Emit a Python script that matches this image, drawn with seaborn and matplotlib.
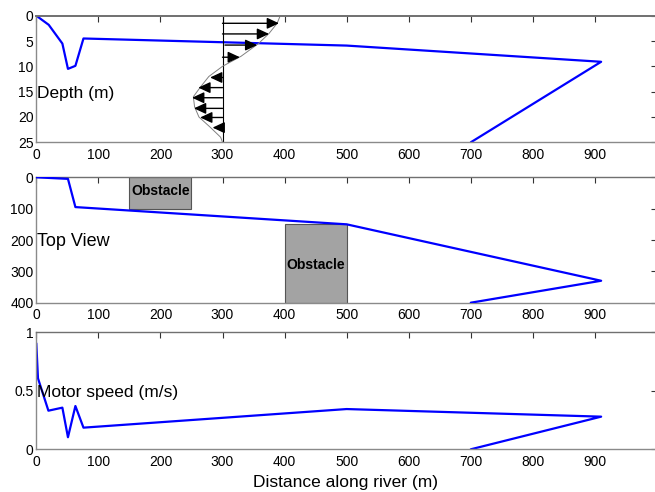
import matplotlib
matplotlib.use("Agg")
import matplotlib.pyplot as plt
import matplotlib.patches as patches
import seaborn as sns

# Depth profile of the path (distance along river, depth in m)
depthDist = [0, 20, 42, 51, 63, 76, 500, 910, 700]
depthVal = [0, 1.8, 5.5, 10.5, 9.9, 4.5, 5.9, 9.1, 25]

# Current velocity profile drawn at x = 300
profileX = [393, 388, 375, 358, 330, 300, 278, 265, 253, 255, 262, 280, 297, 300]
profileDepth = [0, 1.5, 3.5, 5.5, 8, 10, 12, 14, 16, 18, 20, 22, 24, 25]
arrowDepth = [1.5, 3.6, 5.8, 8.2, 12.2, 14.2, 16.2, 18.3, 20.1, 22.1]
arrowTip = [391, 375, 356, 328, 280, 261, 251, 254, 264, 284]
arrowStart = [300, 300, 304, 300, 300, 300, 300, 300, 300, 300]

# Top view of the path
topDist = [0, 51, 63, 500, 910, 700]
topVal = [0, 5, 95, 150, 330, 400]
obstacleX = [150, 400]
obstacleY = [0, 150]
obstacleW = [100, 100]
obstacleH = [100, 250]

# Motor speed along the path
speedDist = [0, 2.7, 19.5, 42, 51, 63, 76, 500, 910, 700]
speedVal = [0.906, 0.607, 0.33, 0.356, 0.103, 0.37, 0.185, 0.344, 0.279, 0]

xTicks = list(range(0, 1000, 100))

sns.set_theme(style="white")
plt.rcParams['font.family'] = ['Liberation Sans', 'DejaVu Sans']
plt.rcParams['text.color'] = 'black'

fig = plt.figure(figsize=(6.55, 4.92), dpi=100)
H = 492.0
W = 655.0
left = 36.3 / W
width = 620.7 / W

def makeAxes(top, bottom):
    return fig.add_axes([left, 1 - bottom / H, width, (bottom - top) / H])

def styleAxes(ax, yticks, ylabels):
    ax.set_xlim(0, 1000)
    ax.set_xticks(xTicks)
    ax.set_xticklabels([str(t) for t in xTicks])
    ax.set_yticks(yticks)
    ax.set_yticklabels(ylabels)
    ax.tick_params(direction='in', length=4, width=0.8, colors='#333333',
                   labelcolor='black', labelsize=10, top=True, right=True)
    ax.tick_params(axis='x', pad=4)
    ax.tick_params(axis='y', pad=2)
    for s in ax.spines.values():
        s.set_color('#8a8a8a')
        s.set_linewidth(1.0)
    ax.spines['top'].set_color('#707070')
    ax.set_xlabel("")
    ax.set_ylabel("")

# top panel: depth
ax1 = makeAxes(15.7, 142.3)
sns.lineplot(x=depthDist, y=depthVal, sort=False, estimator=None,
             color='#0000ff', linewidth=1.6, ax=ax1)
ax1.plot([300, 300], [0, 25], color='black', linewidth=0.8)
ax1.plot(profileX, profileDepth, color='#808080', linewidth=0.7)
for d, x0, x1 in zip(arrowDepth, arrowStart, arrowTip):
    ax1.annotate("", xy=(x1, d), xytext=(x0, d),
                 arrowprops=dict(arrowstyle='-|>,head_length=0.6,head_width=0.28',
                                 color='black', lw=1.0, shrinkA=0, shrinkB=0))
ax1.set_ylim(25, 0)
styleAxes(ax1, [0, 5, 10, 15, 20, 25], ['0', '5', '10', '15', '20', '25'])
ax1.spines['top'].set_linewidth(1.4)
ax1.text(1, 15.3, "Depth (m)", fontsize=12.5, va='center', ha='left', color='black')

# middle panel: top view
ax2 = makeAxes(177.3, 302.7)
for x0, y0, w, h in zip(obstacleX, obstacleY, obstacleW, obstacleH):
    ax2.add_patch(patches.Rectangle((x0, y0), w, h, facecolor='#a3a3a3',
                                    edgecolor='#555555', linewidth=0.8, zorder=1))
    ax2.text(x0 + w / 2, y0 + h / 2 + (5 if h > 150 else -5), "Obstacle",
             fontsize=10, fontweight='bold', ha='center', va='center',
             color='black', zorder=2)
sns.lineplot(x=topDist, y=topVal, sort=False, estimator=None,
             color='#0000ff', linewidth=1.6, ax=ax2, zorder=3)
ax2.set_ylim(400, 0)
styleAxes(ax2, [0, 100, 200, 300, 400], ['0', '100', '200', '300', '400'])
ax2.text(1, 205, "Top View", fontsize=13, va='center', ha='left', color='black')

# bottom panel: motor speed
ax3 = makeAxes(332.3, 449.3)
sns.lineplot(x=speedDist, y=speedVal, sort=False, estimator=None,
             color='#0000ff', linewidth=1.6, ax=ax3)
ax3.set_ylim(0, 1)
styleAxes(ax3, [0, 0.5, 1], ['0', '0.5', '1'])
ax3.text(1, 0.484, "Motor speed (m/s)", fontsize=12.5, va='center', ha='left',
         color='black')
fig.text(345.5 / W, 1 - 482 / H, "Distance along river (m)", fontsize=12.5,
         ha='center', va='center', color='black')

fig.savefig("out.png", dpi=100)
